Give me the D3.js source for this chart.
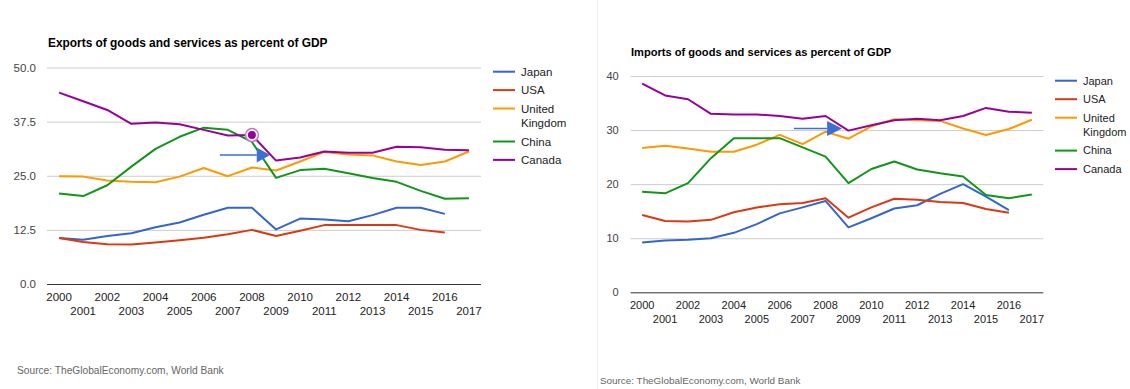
<!DOCTYPE html>
<html>
<head>
<meta charset="utf-8">
<script src="https://cdn.jsdelivr.net/npm/d3@7"></script>
<style>
  html, body { margin: 0; padding: 0; background: #fff; }
  svg { display: block; font-family: Arial, "Liberation Sans", sans-serif; }
</style>
</head>
<body>
<svg id="chart" width="1130" height="389"></svg>
<script>
// ---------- data ----------
const years = [2000,2001,2002,2003,2004,2005,2006,2007,2008,2009,2010,2011,2012,2013,2014,2015,2016,2017];
const seriesNames = ["Japan", "USA", "United Kingdom", "China", "Canada"];

const exportsJapan  = [10.6,10.2,11.1,11.7,13.1,14.2,16.0,17.6,17.6,12.6,15.1,14.9,14.5,15.9,17.6,17.6,16.2,null];
const exportsUSA    = [10.6,9.7,9.2,9.1,9.6,10.1,10.7,11.5,12.5,11.1,12.3,13.6,13.6,13.6,13.6,12.5,11.9,null];
const exportsUK     = [24.9,24.8,23.9,23.6,23.5,24.8,26.8,24.9,26.9,26.2,28.3,30.5,29.9,29.7,28.3,27.5,28.3,30.6];
const exportsChina  = [20.9,20.3,22.8,27.1,31.2,34.0,36.1,35.6,32.8,24.5,26.3,26.6,25.6,24.5,23.6,21.5,19.7,19.8];
const exportsCanada = [44.2,42.2,40.2,37.0,37.3,36.9,35.6,34.3,34.4,28.5,29.2,30.6,30.3,30.3,31.7,31.6,31.0,30.9];

const importsJapan  = [9.2,9.6,9.7,10.0,11.0,12.6,14.6,15.7,16.9,12.0,13.7,15.5,16.1,18.2,20.0,17.7,15.2,null];
const importsUSA    = [14.3,13.2,13.1,13.4,14.8,15.7,16.3,16.5,17.4,13.8,15.7,17.3,17.1,16.7,16.5,15.4,14.7,null];
const importsUK     = [26.7,27.1,26.6,26.0,26.0,27.3,29.1,27.4,29.7,28.4,30.7,32.0,31.8,31.7,30.3,29.1,30.2,31.9];
const importsChina  = [18.6,18.3,20.2,24.8,28.5,28.5,28.5,26.8,25.1,20.2,22.8,24.2,22.7,22.0,21.4,18.0,17.4,18.1];
const importsCanada = [38.6,36.4,35.7,33.0,32.9,32.9,32.6,32.1,32.6,29.9,30.9,31.8,32.1,31.8,32.6,34.1,33.4,33.2];

const exportsTicks = [0, 12.5, 25, 37.5, 50];
const importsTicks = [0, 10, 20, 30, 40];

// annotation arrows (in year-index / value units)
const exportsArrow = [6.67, 8.2, 8.75, 29.8];
const importsArrow = [6.62, 8.07, 8.72, 30.3];
// highlighted point: Canada 2008 exports
const exportsHighlight = [2008, 34.4];

// ---------- styling ----------
const colors = ["#3366cc", "#dc3912", "#ff9900", "#109618", "#990099"];
const arrowColor = "#3c6fd6";

const svg = d3.select("#chart");

// faint panel divider
svg.append("line").attr("x1", 597.5).attr("x2", 597.5).attr("y1", 0).attr("y2", 389)
  .attr("stroke", "#f0f0f0").attr("stroke-width", 1);

function drawChart(cfg) {
  const g = svg.append("g");
  const x = d3.scaleBand().domain(years).range([cfg.left, cfg.right]);
  const xi = d3.scaleLinear().domain([0, 1]).range([x(years[0]) + x.bandwidth()/2, x(years[1]) + x.bandwidth()/2]);
  const y = d3.scaleLinear().domain([0, cfg.ticks[cfg.ticks.length-1]]).range([cfg.bottom, cfg.top]);

  // title
  g.append("text").attr("x", cfg.titleX).attr("y", cfg.titleY)
    .attr("font-size", cfg.titleSize).attr("font-weight", "bold").attr("fill", "#000")
    .text(cfg.title);

  // y axis with gridlines
  const yAxis = d3.axisLeft(y).tickValues(cfg.ticks)
    .tickSize(-(cfg.right - cfg.left)).tickPadding(cfg.right > 700 ? 12 : 11)
    .tickFormat(cfg.tickFormat);
  const ya = g.append("g").attr("transform", `translate(${cfg.left},0)`).call(yAxis);
  ya.select(".domain").remove();
  ya.selectAll(".tick line").attr("stroke", d => d === 0 ? "#333" : "#cccccc").attr("stroke-width", 1);
  ya.selectAll(".tick text").attr("fill", "#444").attr("font-size", cfg.labelSize)
    .attr("font-family", "Arial, 'Liberation Sans', sans-serif");

  // x axis labels (alternating rows)
  const xAxis = d3.axisBottom(x).tickSize(0).tickPadding(0);
  const xa = g.append("g").attr("transform", `translate(0,${cfg.bottom})`).call(xAxis);
  xa.select(".domain").remove();
  xa.selectAll(".tick text")
    .attr("fill", "#222").attr("font-size", cfg.labelSize)
    .attr("font-family", "Arial, 'Liberation Sans', sans-serif")
    .attr("dy", null)
    .attr("y", (d, i) => i % 2 === 0 ? cfg.row1 : cfg.row2);

  // lines
  const line = d3.line()
    .defined(d => d.v !== null)
    .x(d => x(d.year) + x.bandwidth()/2)
    .y(d => y(d.v));
  cfg.series.forEach((vals, si) => {
    const pts = years.map((yr, i) => ({year: yr, v: vals[i]}));
    g.append("path").datum(pts).attr("d", line)
      .attr("fill", "none").attr("stroke", colors[si]).attr("stroke-width", 2)
      .attr("stroke-linejoin", "round");
  });

  // highlight point
  if (cfg.highlight) {
    const hx = x(cfg.highlight[0]) + x.bandwidth()/2, hy = y(cfg.highlight[1]);
    g.append("circle").attr("cx", hx).attr("cy", hy).attr("r", 6.5)
      .attr("fill", "#fff").attr("stroke", "#c27ac2").attr("stroke-width", 1.5);
    g.append("circle").attr("cx", hx).attr("cy", hy).attr("r", 4)
      .attr("fill", colors[4]);
  }

  // arrow annotation
  const a = cfg.arrow;
  const ay = y(a[3]);
  g.append("line").attr("x1", xi(a[0])).attr("x2", xi(a[1])).attr("y1", ay).attr("y2", ay)
    .attr("stroke", arrowColor).attr("stroke-width", 1.5);
  g.append("path")
    .attr("d", `M${xi(a[1])},${ay-7.5} L${xi(a[2])},${ay} L${xi(a[1])},${ay+7.5} Z`)
    .attr("fill", arrowColor);

  // legend
  const lg = g.append("g");
  let ly = cfg.legendY;
  seriesNames.forEach((name, si) => {
    lg.append("line").attr("x1", cfg.legendX).attr("x2", cfg.legendX + 22)
      .attr("y1", ly).attr("y2", ly).attr("stroke", colors[si]).attr("stroke-width", 2);
    const words = name === "United Kingdom" ? ["United", "Kingdom"] : [name];
    words.forEach((w, wi) => {
      lg.append("text").attr("x", cfg.legendX + 28).attr("y", ly + wi * cfg.legendLine)
        .attr("dy", "0.35em").attr("font-size", cfg.legendSize).attr("fill", "#222").text(w);
    });
    ly += cfg.legendStep + (words.length - 1) * cfg.legendLine;
  });

  // source
  g.append("text").attr("x", cfg.sourceX).attr("y", cfg.sourceY)
    .attr("font-size", cfg.sourceSize).attr("fill", "#666").text("Source: TheGlobalEconomy.com, World Bank");
}

drawChart({
  title: "Exports of goods and services as percent of GDP",
  titleX: 48, titleY: 47, titleSize: 11.9,
  left: 47, right: 481, top: 67.5, bottom: 284,
  ticks: exportsTicks, tickFormat: d3.format(".1f"), labelSize: 11.5,
  row1: 17, row2: 31,
  series: [exportsJapan, exportsUSA, exportsUK, exportsChina, exportsCanada],
  arrow: exportsArrow, highlight: exportsHighlight,
  legendX: 493, legendY: 71.7, legendStep: 18.4, legendLine: 14.6, legendSize: 11.5,
  sourceX: 17, sourceY: 374, sourceSize: 10.2
});

drawChart({
  title: "Imports of goods and services as percent of GDP",
  titleX: 631, titleY: 55.5, titleSize: 11.1,
  left: 630.7, right: 1043.3, top: 76, bottom: 292.3,
  ticks: importsTicks, tickFormat: d3.format("d"), labelSize: 11,
  row1: 17, row2: 31,
  series: [importsJapan, importsUSA, importsUK, importsChina, importsCanada],
  arrow: importsArrow, highlight: null,
  legendX: 1055, legendY: 80.7, legendStep: 18.5, legendLine: 14.4, legendSize: 11,
  sourceX: 600, sourceY: 384, sourceSize: 9.9
});
</script>
</body>
</html>
